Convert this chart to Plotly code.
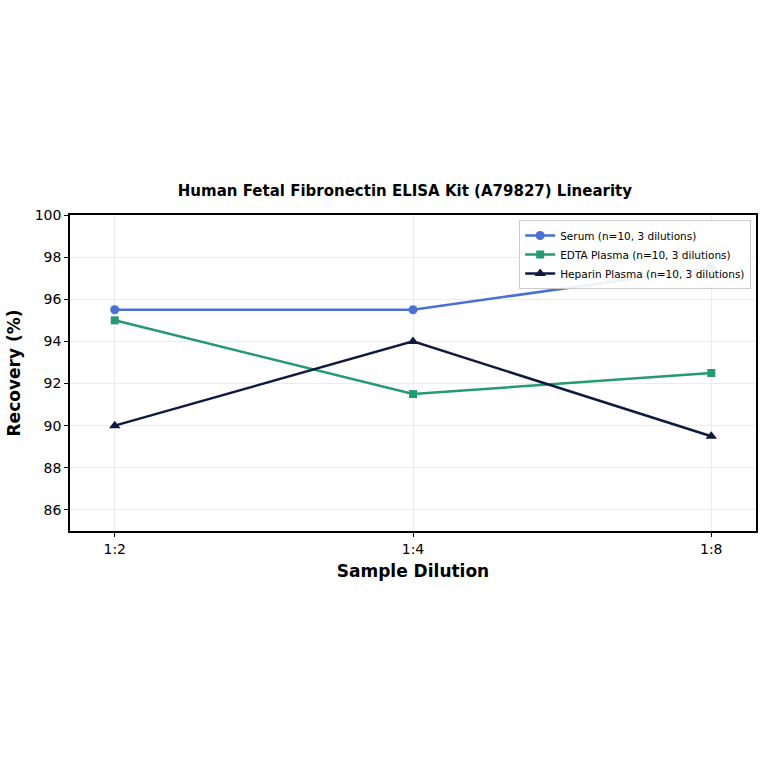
import plotly.graph_objects as go

# Data
dilutions = ["1:2", "1:4", "1:8"]
serum = [95.5, 95.5, 97.5]
edta = [95.0, 91.5, 92.5]
heparin = [90.0, 94.0, 89.5]

series = [
    ("Serum (n=10, 3 dilutions)", serum, "#4a6fd6", "circle", 9),
    ("EDTA Plasma (n=10, 3 dilutions)", edta, "#239a72", "square", 8),
    ("Heparin Plasma (n=10, 3 dilutions)", heparin, "#101a3f", "triangle-up", 10),
]

fig = go.Figure()
for name, vals, color, sym, size in series:
    fig.add_trace(go.Scatter(
        x=dilutions, y=vals, name=name, mode="lines+markers",
        line=dict(color=color, width=2.5),
        marker=dict(color=color, symbol=sym, size=size),
    ))

fig.update_layout(
    width=764, height=764,
    margin=dict(l=70, r=8, t=215, b=233, autoexpand=False),
    paper_bgcolor="white", plot_bgcolor="white",
    font=dict(family="DejaVu Sans", color="black"),
    title=dict(
        text="<b>Human Fetal Fibronectin ELISA Kit (A79827) Linearity</b>",
        x=0.530, xanchor="center", y=0.750, yanchor="middle",
        font=dict(size=15),
    ),
    legend=dict(
        x=0.993, xanchor="right", y=0.984, yanchor="top",
        bgcolor="rgba(255,255,255,0.9)", bordercolor="#cccccc", borderwidth=1,
        font=dict(size=10.5), tracegroupgap=0, itemwidth=30,
    ),
    showlegend=True,
)

fig.update_xaxes(
    type="category", range=[-0.15, 2.15],
    showline=True, linecolor="black", linewidth=1.5, mirror=True,
    ticks="outside", ticklen=4, tickcolor="black",
    showgrid=True, gridcolor="#ececec", gridwidth=1,
    tickfont=dict(size=14),
    title=dict(text="<b>Sample Dilution</b>", font=dict(size=17), standoff=10),
)
fig.update_yaxes(
    range=[85, 100], dtick=2, tick0=86,
    showline=True, linecolor="black", linewidth=1.5, mirror=True,
    ticks="outside", ticklen=4, tickcolor="black",
    showgrid=True, gridcolor="#ececec", gridwidth=1,
    zeroline=False,
    tickfont=dict(size=14),
    title=dict(text="<b>Recovery (%)</b>", font=dict(size=17), standoff=10),
)

fig.write_html("out.html", config={"displayModeBar": False},
               post_script="document.body.style.margin='0';")
